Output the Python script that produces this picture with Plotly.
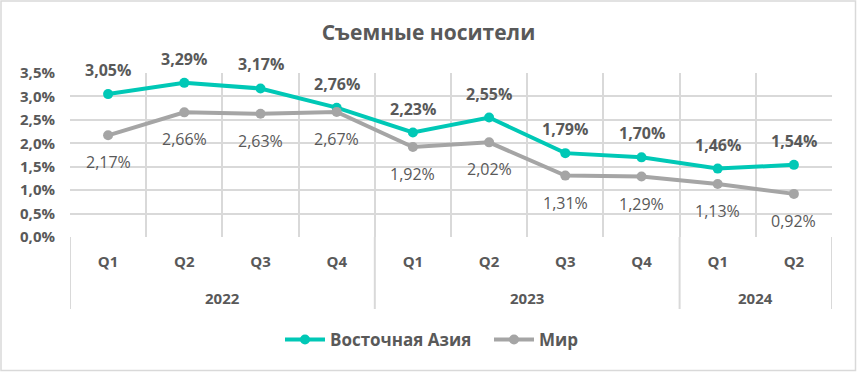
import plotly.graph_objects as go

years = ["2022", "2022", "2022", "2022", "2023", "2023", "2023", "2023", "2024", "2024"]
quarters = ["Q1", "Q2", "Q3", "Q4", "Q1", "Q2", "Q3", "Q4", "Q1", "Q2"]
east_asia = [3.05, 3.29, 3.17, 2.76, 2.23, 2.55, 1.79, 1.70, 1.46, 1.54]
world = [2.17, 2.66, 2.63, 2.67, 1.92, 2.02, 1.31, 1.29, 1.13, 0.92]
y_ticks = [0.0, 0.5, 1.0, 1.5, 2.0, 2.5, 3.0, 3.5]

W, H = 857, 372
ML, MR, MT, MB = 70, 25, 73, 135
TEAL = "#00C8B6"
GRAY = "#A5A5A5"
TXT = "#595959"
GRID = "#D9D9D9"
FONT = "Open Sans"

idx = list(range(len(quarters)))
boundaries = [i - 0.5 for i in idx] + [idx[-1] + 0.5]

fig = go.Figure()
fig.add_trace(go.Scatter(
    x=idx, y=east_asia, name="Восточная Азия",
    mode="lines+markers", line=dict(color=TEAL, width=4),
    marker=dict(color=TEAL, size=10),
))
fig.add_trace(go.Scatter(
    x=idx, y=world, name="Мир",
    mode="lines+markers", line=dict(color=GRAY, width=4),
    marker=dict(color=GRAY, size=10),
))

def fmt(v, d=2):
    return f"{v:.{d}f}".replace(".", ",") + "%"

for i, v in zip(idx, east_asia):
    fig.add_annotation(x=i, y=v, text="<b>" + fmt(v) + "</b>", showarrow=False,
                       yshift=24, font=dict(family=FONT, size=16, color=TXT))
for i, v in zip(idx, world):
    fig.add_annotation(x=i, y=v, text=fmt(v), showarrow=False,
                       yshift=-27, font=dict(family=FONT, size=16, color=TXT))

pw = W - ML - MR
ph = H - MT - MB

# year groups: labels and dividers
groups = []
for i, yv in zip(idx, years):
    if not groups or groups[-1][0] != yv:
        groups.append([yv, i, i])
    else:
        groups[-1][2] = i
div_len = 72 / ph
divs = sorted({g[1] - 0.5 for g in groups} | {groups[-1][2] + 0.5})
for xb in divs:
    fig.add_shape(type="line", xref="x", yref="paper", x0=xb, x1=xb,
                  y0=0, y1=-div_len, line=dict(color=GRID, width=2), layer="below")
for name, a, b in groups:
    fig.add_annotation(x=(a + b) / 2, y=0, xref="x", yref="paper", yshift=-61,
                       yanchor="middle", text="<b>" + name + "</b>", showarrow=False,
                       font=dict(family=FONT, size=15, color=TXT))

fig.add_shape(type="rect", xref="paper", yref="paper",
              x0=-(ML - 1) / pw, x1=1 + (MR - 1.5) / pw,
              y0=-(MB - 1.5) / ph, y1=1 + (MT - 1) / ph,
              line=dict(color=GRID, width=1.5), layer="below")

fig.update_layout(
    width=W, height=H,
    margin=dict(l=ML, r=MR, t=MT, b=MB, autoexpand=False),
    paper_bgcolor="white", plot_bgcolor="white",
    font=dict(family=FONT, color=TXT),
    title=dict(text="<b>Съемные носители</b>", x=0.5, xref="container", xanchor="center",
               y=1 - 33 / H, yanchor="middle",
               font=dict(family=FONT, size=21, color=TXT)),
    showlegend=True,
    legend=dict(orientation="h", x=(280 - ML) / pw, xanchor="left",
                y=-(340 - (H - MB)) / ph, yanchor="middle",
                font=dict(family=FONT, size=17, color=TXT, weight="bold"),
                entrywidth=154, entrywidthmode="pixels", itemwidth=40,
                traceorder="normal"),
    xaxis=dict(range=[boundaries[0], boundaries[-1]], tickvals=idx, ticktext=quarters,
               showgrid=False, zeroline=False, showline=False, ticks="",
               automargin=False, ticklabelstandoff=14,
               minor=dict(tickvals=boundaries, showgrid=True, gridcolor=GRID,
                          gridwidth=2, ticks=""),
               tickfont=dict(family=FONT, size=15, color=TXT, weight="bold")),
    yaxis=dict(range=[y_ticks[0], y_ticks[-1]], tickvals=y_ticks,
               ticktext=[fmt(t, 1) for t in y_ticks],
               showgrid=True, gridcolor=GRID, gridwidth=2, zeroline=False,
               showline=False, ticks="", ticklabelstandoff=14, automargin=False,
               tickfont=dict(family=FONT, size=15, color=TXT, weight="bold")),
)

fig.write_html("out.html", config={"displayModeBar": False},
               post_script="document.body.style.margin='0';")
